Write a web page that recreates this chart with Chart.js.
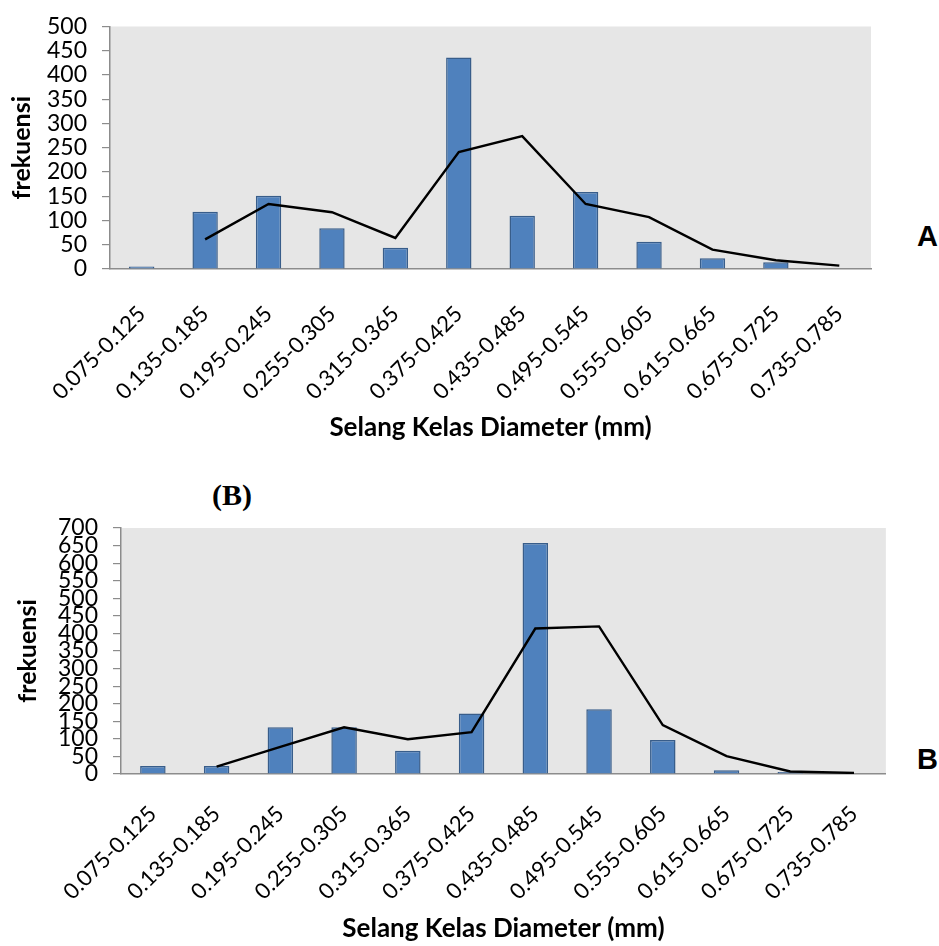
<!DOCTYPE html>
<html lang="id">
<head>
<meta charset="UTF-8">
<title>Distribusi Selang Kelas Diameter</title>
<script src="https://cdn.jsdelivr.net/npm/chart.js@4"></script>
<style>
  body { margin: 0; background: #fff; width: 939px; height: 946px; position: relative; overflow: hidden; }
  canvas { position: absolute; left: 0; }
  #grafikA { top: 0; }
  #grafikB { top: 480px; }
  .huruf { position: absolute; font-family: "Liberation Sans", Arial, sans-serif; font-weight: bold; font-size: 29px; line-height: 1; }
  .panel { position: absolute; left: 212px; top: 480px; font-family: "Liberation Serif", "Times New Roman", serif; font-weight: bold; font-size: 30px; line-height: 1; }
</style>
</head>
<body>
  <canvas id="grafikA" width="900" height="450"></canvas>
  <div class="panel">(B)</div>
  <canvas id="grafikB" width="900" height="466"></canvas>
  <div class="huruf" style="left:917px; top:222px;">A</div>
  <div class="huruf" style="left:917px; top:745px;">B</div>

<script>
// selang kelas diameter (mm)
const kelas = ['0.075-0.125', '0.135-0.185', '0.195-0.245', '0.255-0.305', '0.315-0.365', '0.375-0.425',
               '0.435-0.485', '0.495-0.545', '0.555-0.605', '0.615-0.665', '0.675-0.725', '0.735-0.785'];

// grafik A
const frekA = [5, 118, 151, 84, 44, 436, 110, 159, 56, 22, 14, 0];
const trenA = [null, 61, 134, 117, 64, 241, 274, 134, 107, 40, 18, 7];
const maksA = 500;

// grafik B
const frekB = [23, 23, 133, 133, 66, 172, 657, 184, 97, 11, 6, 0];
const trenB = [null, 21, 77, 133, 99, 119, 414, 420, 139, 51, 7, 3];
const maksB = 700;

const langkahY = 50;

const latarPlot = {
  id: 'latarPlot',
  beforeDraw(chart) {
    const { ctx, chartArea: a } = chart;
    ctx.save();
    ctx.fillStyle = '#e6e6e6';
    ctx.fillRect(a.left, a.top, a.right - a.left, a.bottom - a.top);
    ctx.restore();
  }
};

function buatGrafik(id, frek, tren, maks, set) {
  return new Chart(document.getElementById(id), {
    type: 'bar',
    data: {
      labels: kelas,
      datasets: [
        {
          type: 'line',
          data: tren,
          borderColor: '#000',
          borderWidth: 2.4,
          pointRadius: 0,
          fill: false,
          tension: 0,
          order: 0
        },
        {
          type: 'bar',
          data: frek,
          backgroundColor: '#4f81bd',
          borderColor: '#385d8a',
          borderWidth: 1.5,
          barPercentage: 0.4,
          categoryPercentage: 1,
          order: 1
        }
      ]
    },
    options: {
      responsive: false,
      animation: false,
      devicePixelRatio: 1,
      layout: { padding: set.pad },
      plugins: { legend: { display: false }, tooltip: { enabled: false } },
      scales: {
        x: {
          grid: { display: false, drawTicks: false },
          border: { color: '#8c8c8c', width: 1.5 },
          ticks: {
            color: '#000',
            font: { family: 'Lato', size: 22 },
            minRotation: 45,
            maxRotation: 45,
            autoSkip: false,
            padding: set.xPad
          },
          title: {
            display: true,
            text: 'Selang Kelas Diameter (mm)',
            color: '#000',
            font: { family: 'Lato', size: 26, weight: 'bold' },
            padding: { top: 0, bottom: set.xJudul }
          },
          afterFit(s) { s.height = set.xTinggi; }
        },
        y: {
          min: 0,
          max: maks,
          grid: { drawOnChartArea: false, drawTicks: true, tickLength: 8, color: '#8c8c8c', lineWidth: 1.2 },
          border: { color: '#8c8c8c', width: 1.5 },
          ticks: {
            stepSize: langkahY,
            autoSkip: false,
            color: '#000',
            font: { family: 'Lato', size: 23, lineHeight: 1 },
            padding: 15
          },
          title: {
            display: true,
            text: 'frekuensi',
            color: '#000',
            font: { family: 'Lato', size: 25, weight: 'bold' },
            padding: { top: set.yJudul, bottom: 0 }
          },
          afterFit(s) { s.width = set.yLebar; }
        }
      }
    },
    plugins: [latarPlot]
  });
}

buatGrafik('grafikA', frekA, trenA, maksA, {
  pad: { top: 17, right: 29, left: 0, bottom: 0 },
  yLebar: 110, xTinggi: 181, yJudul: 7, xPad: 32, xJudul: 7
});

buatGrafik('grafikB', frekB, trenB, maksB, {
  pad: { top: 48, right: 8, left: 0, bottom: 0 },
  yLebar: 121, xTinggi: 172, yJudul: 13, xPad: 27, xJudul: 2
});
</script>
</body>
</html>
